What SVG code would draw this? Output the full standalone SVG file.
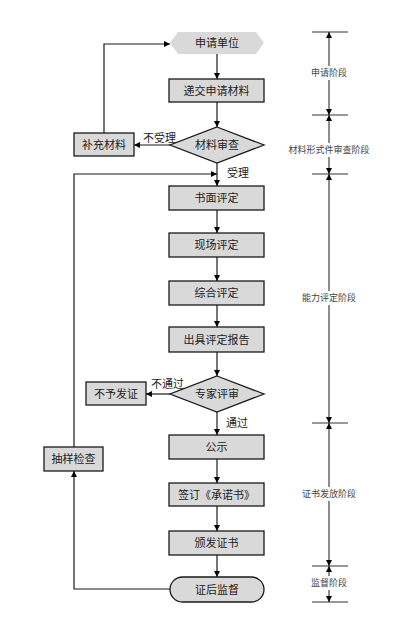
<svg xmlns="http://www.w3.org/2000/svg" width="414" height="626" viewBox="0 0 414 626">
<defs>
<marker id="ah" viewBox="0 0 8 8" refX="8" refY="4" markerWidth="6" markerHeight="6" orient="auto" markerUnits="userSpaceOnUse">
<path d="M0,0 L8,4 L0,8 z" fill="#000"/>
</marker>
</defs>
<style>
.box{fill:#d9d9d9;stroke:#1a1a1a;stroke-width:1.3}
.t{font-family:"Liberation Serif","Noto Sans CJK SC",serif;font-size:11px;fill:#222;text-anchor:middle;dominant-baseline:central}
.lbl{font-family:"Liberation Serif","Noto Sans CJK SC",serif;font-size:11px;fill:#222;dominant-baseline:central}
.st{font-family:"Liberation Serif","Noto Sans CJK SC",serif;font-size:9px;fill:#444;text-anchor:middle;dominant-baseline:central}
.c{fill:none;stroke:#1a1a1a;stroke-width:1.2}
.tick{stroke:#333;stroke-width:1.2}
.dim{fill:none;stroke:#1a1a1a;stroke-width:1}
</style>
<rect width="414" height="626" fill="#fff"/>
<g id="connectors">
<line class="c" x1="217" y1="54" x2="217" y2="79" marker-end="url(#ah)"/>
<line class="c" x1="217" y1="102" x2="217" y2="127" marker-end="url(#ah)"/>
<line class="c" x1="170" y1="145" x2="134" y2="145" marker-end="url(#ah)"/>
<polyline class="c" points="104,133 104,44 170,44" marker-end="url(#ah)"/>
<line class="c" x1="217" y1="163" x2="217" y2="186" marker-end="url(#ah)"/>
<polyline class="c" points="74,447 74,174 217,174" marker-end="url(#ah)"/>
<line class="c" x1="217" y1="210" x2="217" y2="233" marker-end="url(#ah)"/>
<line class="c" x1="217" y1="257" x2="217" y2="281" marker-end="url(#ah)"/>
<line class="c" x1="217" y1="305" x2="217" y2="327" marker-end="url(#ah)"/>
<line class="c" x1="217" y1="352" x2="217" y2="376" marker-end="url(#ah)"/>
<line class="c" x1="170" y1="394" x2="146" y2="394" marker-end="url(#ah)"/>
<line class="c" x1="217" y1="412" x2="217" y2="435" marker-end="url(#ah)"/>
<line class="c" x1="217" y1="459" x2="217" y2="483" marker-end="url(#ah)"/>
<line class="c" x1="217" y1="506" x2="217" y2="531" marker-end="url(#ah)"/>
<line class="c" x1="217" y1="555" x2="217" y2="577" marker-end="url(#ah)"/>
<polyline class="c" points="170,589 74,589 74,471" marker-end="url(#ah)"/>
<text class="lbl" x="143" y="138">不受理</text>
<text class="lbl" x="227" y="173">受理</text>
<text class="lbl" x="151" y="384">不通过</text>
<text class="lbl" x="226" y="423">通过</text>
</g>
<g id="n-shenqingdanwei">
<polygon points="178,32 256,32 264,43 256,54 178,54 170,43" fill="#d9d9d9"/>
<text class="t" x="217" y="43">申请单位</text>
</g>
<g id="n-dijiao">
<rect class="box" x="169" y="79" width="95" height="23"/>
<text class="t" x="216.5" y="90.5">递交申请材料</text>
</g>
<g id="n-shencha">
<polygon class="box" points="217,127 264,145 217,163 170,145"/>
<text class="t" x="217" y="145">材料审查</text>
</g>
<g id="n-buchong">
<rect class="box" x="74" y="133" width="60" height="23"/>
<text class="t" x="104" y="144.5">补充材料</text>
</g>
<g id="n-shumian">
<rect class="box" x="169" y="186" width="95" height="24"/>
<text class="t" x="216.5" y="198">书面评定</text>
</g>
<g id="n-xianchang">
<rect class="box" x="169" y="233" width="95" height="24"/>
<text class="t" x="216.5" y="245">现场评定</text>
</g>
<g id="n-zonghe">
<rect class="box" x="169" y="281" width="95" height="24"/>
<text class="t" x="216.5" y="293">综合评定</text>
</g>
<g id="n-baogao">
<rect class="box" x="169" y="327" width="95" height="25"/>
<text class="t" x="216.5" y="339.5">出具评定报告</text>
</g>
<g id="n-zhuanjia">
<polygon class="box" points="217,376 264,394 217,412 170,394"/>
<text class="t" x="217" y="394">专家评审</text>
</g>
<g id="n-buyu">
<rect class="box" x="86" y="382" width="60" height="23"/>
<text class="t" x="116" y="393.5">不予发证</text>
</g>
<g id="n-gongshi">
<rect class="box" x="169" y="435" width="95" height="24"/>
<text class="t" x="216.5" y="447">公示</text>
</g>
<g id="n-chouyang">
<rect class="box" x="44" y="447" width="59" height="24"/>
<text class="t" x="73.5" y="459">抽样检查</text>
</g>
<g id="n-qianding">
<rect class="box" x="169" y="483" width="95" height="23"/>
<text class="t" x="216.5" y="494.5">签订《承诺书》</text>
</g>
<g id="n-banfa">
<rect class="box" x="169" y="531" width="95" height="24"/>
<text class="t" x="216.5" y="543">颁发证书</text>
</g>
<g id="n-jiandu">
<rect class="box" x="170" y="577" width="94" height="25" rx="12.5" ry="12.5"/>
<text class="t" x="217" y="589.5">证后监督</text>
</g>
<g id="stages">
<line class="tick" x1="312" y1="32" x2="348" y2="32"/>
<line class="tick" x1="312" y1="115" x2="348" y2="115"/>
<line class="tick" x1="312" y1="174" x2="348" y2="174"/>
<line class="tick" x1="312" y1="423" x2="348" y2="423"/>
<line class="tick" x1="312" y1="566" x2="348" y2="566"/>
<line class="tick" x1="312" y1="602" x2="348" y2="602"/>
<line class="dim" x1="329" y1="66" x2="329" y2="32" marker-end="url(#ah)"/>
<line class="dim" x1="329" y1="80" x2="329" y2="115" marker-end="url(#ah)"/>
<line class="dim" x1="329" y1="143" x2="329" y2="115" marker-end="url(#ah)"/>
<line class="dim" x1="329" y1="157" x2="329" y2="174" marker-end="url(#ah)"/>
<line class="dim" x1="329" y1="291" x2="329" y2="174" marker-end="url(#ah)"/>
<line class="dim" x1="329" y1="305" x2="329" y2="423" marker-end="url(#ah)"/>
<line class="dim" x1="329" y1="487" x2="329" y2="423" marker-end="url(#ah)"/>
<line class="dim" x1="329" y1="501" x2="329" y2="566" marker-end="url(#ah)"/>
<line class="dim" x1="329" y1="576" x2="329" y2="566" marker-end="url(#ah)"/>
<line class="dim" x1="329" y1="590" x2="329" y2="602" marker-end="url(#ah)"/>
<text class="st" x="329" y="73">申请阶段</text>
<text class="st" x="329" y="150">材料形式件审查阶段</text>
<text class="st" x="329" y="298">能力评定阶段</text>
<text class="st" x="329" y="494">证书发放阶段</text>
<text class="st" x="329" y="583">监督阶段</text>
</g>
</svg>
